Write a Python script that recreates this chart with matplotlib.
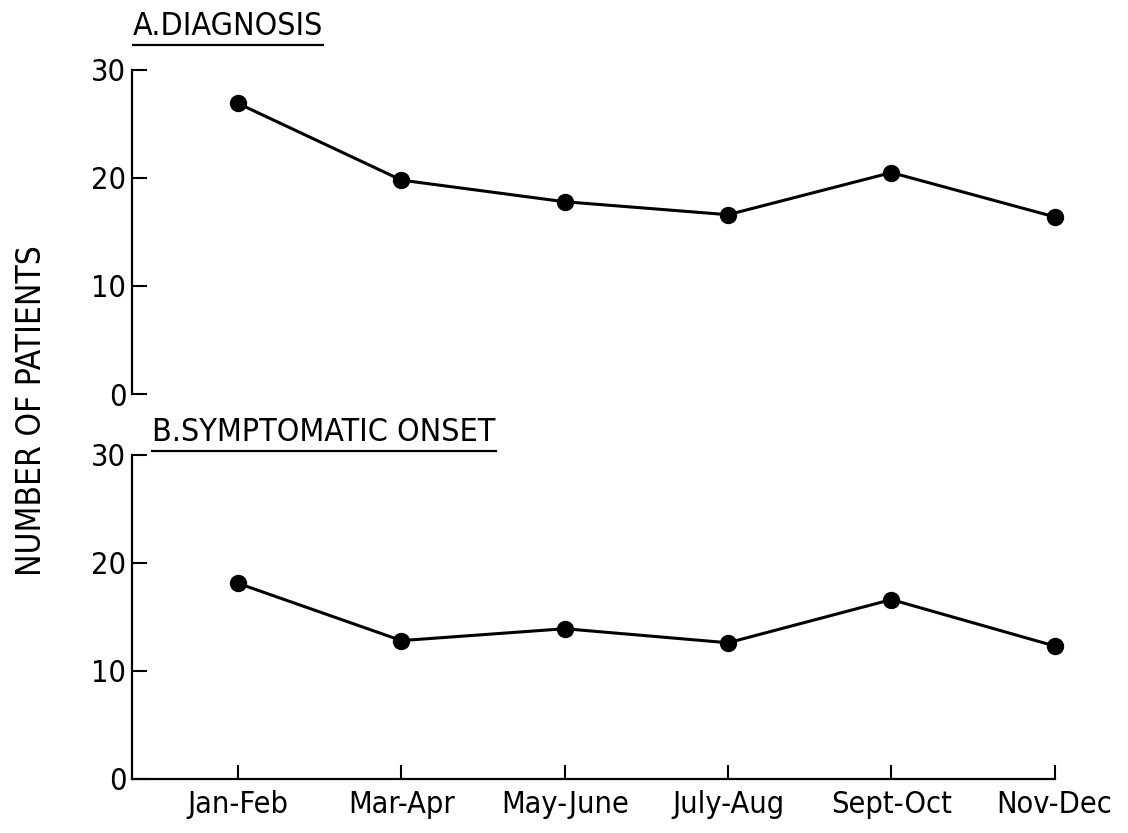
import matplotlib
matplotlib.use("Agg")
import matplotlib.pyplot as plt
from matplotlib.lines import Line2D

plt.rcParams['font.family'] = ['DejaVu Sans']
plt.rcParams['font.stretch'] = 'condensed'

# Data
periods = ["Jan-Feb", "Mar-Apr", "May-June", "July-Aug", "Sept-Oct", "Nov-Dec"]
diagnosis = [26.9, 19.8, 17.8, 16.6, 20.5, 16.4]
onset = [18.1, 12.8, 13.9, 12.6, 16.6, 12.3]
yticks = [0, 10, 20, 30]

fig = plt.figure(figsize=(11.28, 8.33), dpi=100)
ax_a = fig.add_axes([0.117, 0.527, 0.818, 0.389])
ax_b = fig.add_axes([0.117, 0.065, 0.818, 0.389])

x = list(range(len(periods)))
for ax, vals in [(ax_a, diagnosis), (ax_b, onset)]:
    ax.plot(x, vals, color='black', lw=2.2, marker='o', ms=11.5, mfc='black',
            mec='black', clip_on=False)
    ax.set_xlim(-0.65, 5)
    ax.set_ylim(0, 30)
    ax.set_yticks(yticks)
    ax.tick_params(axis='y', direction='in', length=11, width=1.5, labelsize=22, pad=4)
    for s in ['top', 'right']:
        ax.spines[s].set_visible(False)
    ax.spines['left'].set_linewidth(1.6)

ax_a.spines['bottom'].set_visible(False)
ax_a.set_xticks([])

ax_b.spines['bottom'].set_linewidth(1.6)
ax_b.set_xticks(x)
ax_b.set_xticklabels(periods)
ax_b.tick_params(axis='x', direction='in', length=10, width=1.5, labelsize=22, pad=8)

fig.text(0.028, 0.507, "NUMBER OF PATIENTS", rotation=90, fontsize=24,
         ha='center', va='center')

# underlined panel titles
t_a = fig.text(0.118, 0.958, "A.DIAGNOSIS", fontsize=23, ha='left', va='baseline')
t_b = fig.text(0.135, 0.471, "B.SYMPTOMATIC ONSET", fontsize=23, ha='left', va='baseline')
fig.canvas.draw()
r = fig.canvas.get_renderer()
for t in [t_a, t_b]:
    bb = t.get_window_extent(r).transformed(fig.transFigure.inverted())
    y = bb.y0 - 0.004
    fig.add_artist(Line2D([bb.x0, bb.x1], [y, y], transform=fig.transFigure,
                          color='black', lw=1.6))

fig.savefig("out.png", dpi=100, facecolor='white')
